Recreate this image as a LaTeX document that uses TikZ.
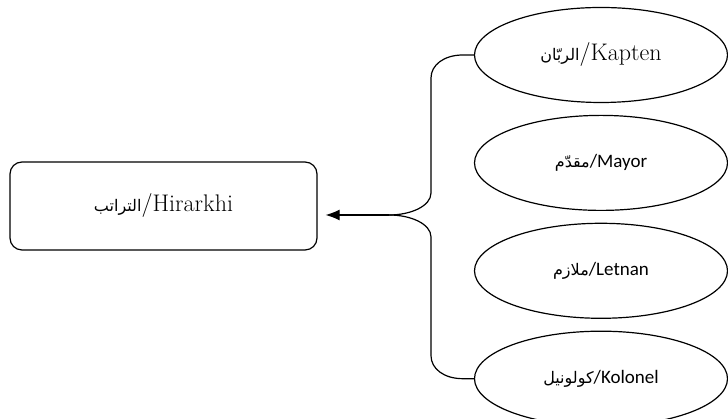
\documentclass[tikz,border=0pt]{standalone}
\usepackage{fontspec}
\setsansfont{Carlito}
\newfontfamily\arabicfont[Script=Arabic]{DejaVu Sans}
\TeXXeTstate=1
\usetikzlibrary{positioning,shapes.geometric,arrows.meta}
\tikzset{>={Latex[length=14pt,width=11pt]}}
\tikzset{rank/.style={draw, ellipse, line width=1.2pt, minimum width=253pt, minimum height=95pt}}
\newcommand{\arabtext}[1]{{\arabicfont\fontsize{16}{19}\selectfont\beginR #1\endR}}
\newcommand{\serifsize}{\fontsize{24}{28}\selectfont}
\newcommand{\sanssize}{\sffamily\fontsize{19}{23}\selectfont}

\begin{document}
\begin{tikzpicture}[x=1pt,y=1pt]
      \useasboundingbox (0,0) rectangle (728,419);
      \node[draw, rounded corners=12pt, line width=1.2pt, minimum width=307pt, minimum height=88pt] (hier) at (163.5,213) {\serifsize\arabtext{التراتب}/Hirarkhi};
      \node[rank] (kapten) at (601,364) {\serifsize\arabtext{الربّان}/Kapten};
      \node[rank, below=11.7pt of kapten] (mayor) {\sanssize\arabtext{مقدّم}/Mayor};
      \node[rank, below=11.7pt of mayor] (letnan) {\sanssize\arabtext{ملازم}/Letnan};
      \node[rank, below=11.7pt of letnan] (kolonel) {\sanssize\arabtext{كولونيل}/Kolonel};
      \coordinate (tip) at (389,204);
      \coordinate (mid) at (431,204);
      % brace
      \draw[line width=1.2pt] (kapten.west) -- ++(-11,0) .. controls +(-19,0) and +(0,13) .. ([yshift=-23pt]kapten.west -| mid) -- ([yshift=22pt]mid) .. controls +(0,-13) and +(22,0) .. (tip);
      \draw[line width=1.2pt] (kolonel.west) -- ++(-11,0) .. controls +(-19,0) and +(0,-13) .. ([yshift=23pt]kolonel.west -| mid) -- ([yshift=-22pt]mid) .. controls +(0,13) and +(22,0) .. (tip);
      \draw[->, line width=1.2pt, shorten >=8pt] (tip) to (tip -| hier.east);
    \end{tikzpicture}
\end{document}
